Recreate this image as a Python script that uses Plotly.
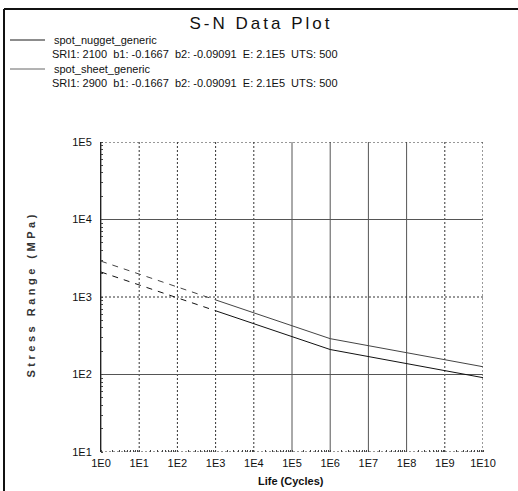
import plotly.graph_objects as go

# ---- data ----
cycles = [1, 1e3, 1e6, 1e10]
nugget_stress = [2100, 664, 210, 91]
sheet_stress = [2900, 917, 290, 126]
x_tick_vals = [10**i for i in range(0, 11)]
x_tick_labels = ["1E%d" % i for i in range(0, 11)]
y_tick_vals = [10**i for i in range(1, 6)]
y_tick_labels = ["1E%d" % i for i in range(1, 6)]
legend_names = ["spot_nugget_generic", "spot_sheet_generic"]
legend_params = ["SRI1: 2100 \u00a0b1: -0.1667 \u00a0b2: -0.09091 \u00a0E: 2.1E5 \u00a0UTS: 500",
                 "SRI1: 2900 \u00a0b1: -0.1667 \u00a0b2: -0.09091 \u00a0E: 2.1E5 \u00a0UTS: 500"]

# grid line styles (one per decade line)
x_grid_dash = ["solid", "dot", "dot", "dot", "dot", "solid", "solid", "solid", "solid", "dot", "dot"]
y_grid_dash = ["dot", "solid", "dot", "solid", "dot"]

W, H = 518, 491
L, R, T, B = 101, 35, 142, 39
PW, PH = W - L - R, H - T - B


def px(x):
    return (x - L) / PW


def py(y):
    return (H - B - y) / PH


FONT = "Liberation Sans, Arial, sans-serif"
fig = go.Figure()

series = [(nugget_stress, "#111111"), (sheet_stress, "#444444")]
for vals, col in series:
    fig.add_trace(go.Scatter(x=cycles[:2], y=vals[:2], mode="lines",
                             line=dict(color=col, width=1, dash="6px,6px"),
                             showlegend=False, hoverinfo="skip"))
    fig.add_trace(go.Scatter(x=cycles[1:], y=vals[1:], mode="lines",
                             line=dict(color=col, width=1),
                             showlegend=False))

axis_common = dict(type="log", showgrid=False, ticks="",
                   zeroline=False, tickfont=dict(family=FONT, size=11, color="#111"))
fig.update_xaxes(range=[0, 10], tickvals=x_tick_vals, ticktext=x_tick_labels,
                 ticklabelstandoff=3, showline=False,
                 minor=dict(dtick="D1", ticks="inside", ticklen=2, tickcolor="#444", showgrid=False),
                 **axis_common)
fig.update_yaxes(range=[1, 5], tickvals=y_tick_vals, ticktext=y_tick_labels,
                 ticklabelstandoff=6, showline=True, linecolor="#222", linewidth=1,
                 minor=dict(dtick="D1", ticks="inside", ticklen=2, tickcolor="#444", showgrid=False),
                 **axis_common)

shapes = []
for v, d in zip(x_tick_vals, x_grid_dash):
    shapes.append(dict(type="line", xref="x", yref="paper", x0=v, x1=v, y0=0, y1=1,
                       layer="below",
                       line=dict(color="#555" if d == "solid" else "#333", width=1,
                                 dash="solid" if d == "solid" else "2px,2px")))
for v, d in zip(y_tick_vals, y_grid_dash):
    shapes.append(dict(type="line", xref="paper", yref="y", x0=0, x1=1, y0=v, y1=v,
                       layer="below",
                       line=dict(color="#555" if d == "solid" else "#333", width=1,
                                 dash="solid" if d == "solid" else "2px,2px")))


def label(text, x, y, size, xanchor="center", angle=0, color="#111"):
    return dict(text=text, x=px(x), y=py(y), xref="paper", yref="paper",
                xanchor=xanchor, yanchor="middle", showarrow=False, textangle=angle,
                font=dict(family=FONT, size=size, color=color))


ann = [label("S-N Data Plot", 261, 23, 17)]
rows_y = [40, 54, 69, 83]
for i in range(2):
    ann.append(label(legend_names[i], 52, rows_y[2 * i], 11, xanchor="left"))
    ann.append(label(legend_params[i], 50, rows_y[2 * i + 1], 11, xanchor="left"))
ann.append(label("<b>Life (Cycles)</b>", 291, 481, 11))
ann.append(label("<b>Stress Range (MPa)</b>", 31, 294, 11, angle=-90, color="#333"))

# legend line samples
shapes.append(dict(type="line", xref="paper", yref="paper", x0=px(10), x1=px(45),
                   y0=py(rows_y[0]), y1=py(rows_y[0]), line=dict(color="#1a1a1a", width=1)))
shapes.append(dict(type="line", xref="paper", yref="paper", x0=px(10), x1=px(45),
                   y0=py(rows_y[2]), y1=py(rows_y[2]), line=dict(color="#666", width=1)))
# frame border (left and top)
shapes.append(dict(type="line", xref="paper", yref="paper", x0=px(4), x1=px(4),
                   y0=py(9), y1=py(H), line=dict(color="#111", width=2)))
shapes.append(dict(type="line", xref="paper", yref="paper", x0=px(4), x1=px(W),
                   y0=py(9), y1=py(9), line=dict(color="#111", width=2)))

fig.update_layout(width=W, height=H, margin=dict(l=L, r=R, t=T, b=B),
                  paper_bgcolor="white", plot_bgcolor="white",
                  annotations=ann, shapes=shapes, showlegend=False,
                  hovermode=False, font=dict(family=FONT))

post = ("document.body.style.margin='0';document.body.style.padding='0';"
        "document.querySelectorAll('.annotation-text').forEach(function(t){"
        "var s=t.textContent;"
        "if(s.indexOf('Stress')===0){t.style.letterSpacing='3.5px';}"
        "if(s.indexOf('S-N')===0){t.style.letterSpacing='3px';}});")
fig.write_html("out.html", post_script=post, config={"displayModeBar": False})
